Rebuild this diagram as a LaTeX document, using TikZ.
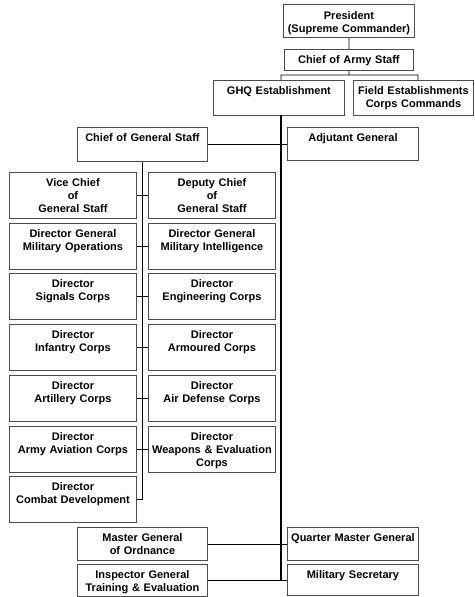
\documentclass[tikz,border=0pt]{standalone}
\usepackage{fontspec}
\setmainfont{Liberation Sans}
\newcommand{\orgfont}{\fontsize{11}{13}\selectfont\bfseries}
\newcommand{\ob}{\node[orgbox]}
\newcommand{\cb}{\node[orgbox, text width=123pt, text depth=29pt]}
\tikzset{
  orgbox/.style={draw=black!70, line width=0.9pt, align=center, anchor=north west,
    inner xsep=2pt, inner ysep=3pt, text height=11pt, font=\orgfont},
  link/.style={line width=0.6pt},
  spine/.style={line width=1.8pt}
}

\begin{document}
\begin{tikzpicture}[x=1pt, y=-1pt]
            \useasboundingbox (0,0) rectangle (474,597);

            \ob[text width=127pt, text height=12pt, text depth=15pt] (pres) at (283,4) {President\\(Supreme Commander)};
            \ob[text width=125pt, text depth=4pt] (coas) at (284,49) {Chief of Army Staff};
            \ob[text width=127pt, text depth=18pt] (ghq) at (213,80) {GHQ Establishment};
            \ob[text width=116pt, text depth=18pt] (field) at (353,80) {Field Establishments\\Corps Commands};
            \ob[text width=126pt, text depth=17pt] (cogs) at (77,127) {Chief of General Staff};
            \ob[text width=127pt, text depth=16pt] (adjgen) at (287,127) {Adjutant General};

            \cb (vcgs) at (9,172) {Vice Chief\\of\\General Staff};
            \cb (dcgs) at (148,172) {Deputy Chief\\of\\General Staff};
            \cb (dgmo) at (9,223) {Director General\\Military Operations};
            \cb (dgmi) at (148,223) {Director General\\Military Intelligence};
            \cb (dsig) at (9,273) {Director\\Signals Corps};
            \cb (deng) at (148,273) {Director\\Engineering Corps};
            \cb (dinf) at (9,324) {Director\\Infantry Corps};
            \cb (darm) at (148,324) {Director\\Armoured Corps};
            \cb (dart) at (9,375) {Director\\Artillery Corps};
            \cb (dad) at (148,375) {Director\\Air Defense Corps};
            \cb (dav) at (9,426) {Director\\Army Aviation Corps};
            \cb (dwe) at (148,426) {Director\\Weapons \& Evaluation\\Corps};
            \cb (dcd) at (9,476) {Director\\Combat Development};

            \ob[text width=126pt, text depth=16pt] (mgo) at (77,527) {Master General\\of Ordnance};
            \ob[text width=127pt, text depth=16pt] (qmg) at (287,527) {Quarter Master General};
            \ob[text width=126pt, text depth=15pt] (igte) at (77,564) {Inspector General\\Training \& Evaluation};
            \ob[text width=127pt, text depth=14pt] (msec) at (287,564) {Military Secretary};

            \coordinate (bus) at (349,75);
            \coordinate (fdrop) at (418,80);
            \coordinate (spinetop) at (281,115);

            \draw[link]
                (pres) -- (coas)
                (coas.south) -- (bus)
                (spinetop |- ghq.north) |- (bus) -| (fdrop)
                ;

            \draw[spine]
                (spinetop) -- (spinetop |- igte.east);

            \draw[link]
                (cogs.east) -- (cogs.east -| adjgen.west)
                (cogs.south) |- (dcd.east)
                (vcgs.east) -- (dcgs.west)
                (dgmo.east) -- (dgmi.west)
                (dsig.east) -- (deng.west)
                (dinf.east) -- (darm.west)
                (dart.east) -- (dad.west)
                (dav.east) -- (dwe.west)
                (mgo.east) -- (mgo.east -| qmg.west)
                (igte.east) -- (igte.east -| msec.west)
                ;
        \end{tikzpicture}
\end{document}
